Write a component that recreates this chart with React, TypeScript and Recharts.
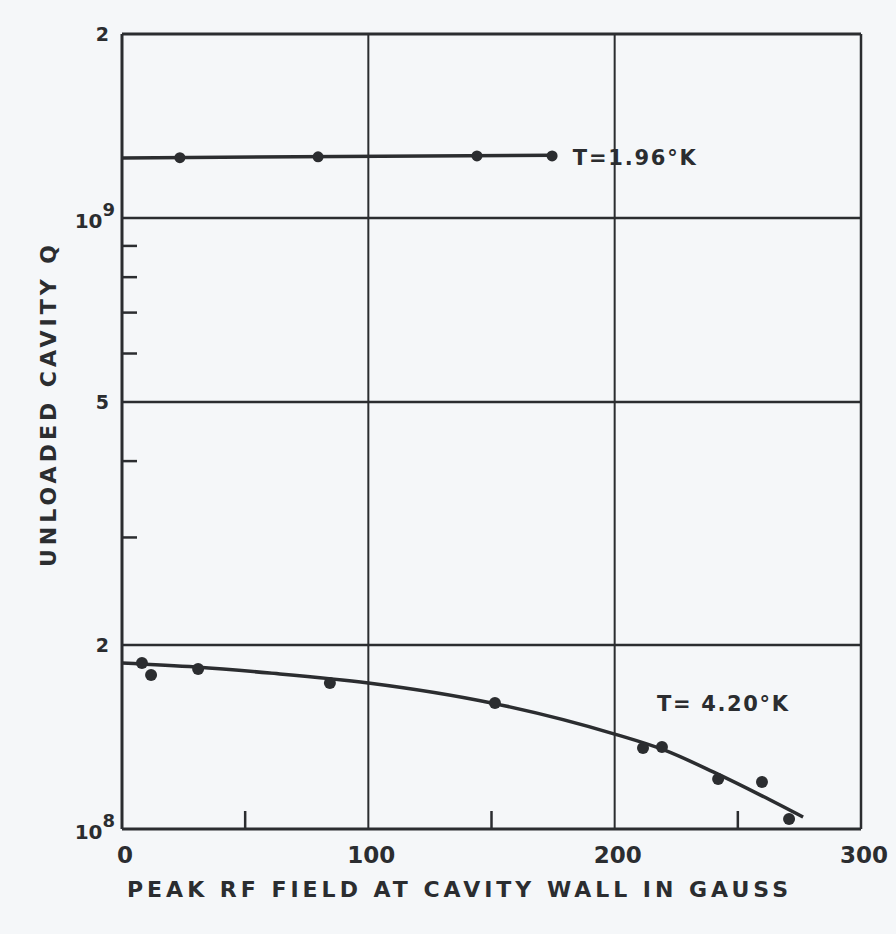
import {
  ComposedChart,
  Line,
  Scatter,
  XAxis,
  YAxis,
  ReferenceLine,
  ReferenceDot,
} from 'recharts';

const INK = '#2b2d30';
const PAPER = '#f5f7f9';
const FONT = '"DejaVu Sans", sans-serif';

// T = 1.96 K measurements and fitted line
const coldField = [23.5, 79.6, 144.1, 174.6];
const coldQ = [1.255e9, 1.259e9, 1.263e9, 1.263e9];
const coldFitField = [0, 174.6];
const coldFitQ = [1.254e9, 1.266e9];

// T = 4.20 K measurements and fitted curve
const warmField = [8.1, 11.8, 30.9, 84.4, 151.4, 211.5, 219.2, 242.0, 259.8, 270.8];
const warmQ = [1.869e8, 1.787e8, 1.827e8, 1.734e8, 1.608e8, 1.357e8, 1.362e8, 1.207e8, 1.194e8, 1.038e8];
const warmFitField = [0, 30, 60, 100, 150, 200, 220, 240, 260, 276.5];
const warmFitQ = [1.869e8, 1.841e8, 1.8e8, 1.734e8, 1.608e8, 1.43e8, 1.347e8, 1.24e8, 1.132e8, 1.046e8];

// axis ticks
const fieldMajorTicks = [0, 100, 200, 300];
const fieldMinorTicks = [50, 150, 250];
const qMajorTicks = [1e8, 2e8, 5e8, 1e9, 2e9];
const qMajorLabels = [['10', '8'], ['2', ''], ['5', ''], ['10', '9'], ['2', '']];
const qMinorTicks = [3e8, 4e8, 6e8, 7e8, 8e8, 9e8];
const qGridLines = [2e8, 5e8, 1e9];
const fieldGridLines = [100, 200];

const zip = (xs: number[], ys: number[]) => xs.map((x, i) => ({ x, q: ys[i] }));

const coldPoints = zip(coldField, coldQ);
const coldFit = zip(coldFitField, coldFitQ);
const warmPoints = zip(warmField, warmQ);
const warmFit = zip(warmFitField, warmFitQ);

function QTick(props: any) {
  const { x, y, payload } = props;
  const i = qMajorTicks.indexOf(payload.value);
  if (i < 0) {
    return <line x1={x} x2={x + 15} y1={y} y2={y} stroke={INK} strokeWidth={2.5} />;
  }
  const [base, exp] = qMajorLabels[i];
  if (!exp) {
    return (
      <text x={x - 13} y={y + 7} textAnchor="end" fontSize={19} fontWeight="bold" fontFamily={FONT} fill={INK}>
        {base}
      </text>
    );
  }
  return (
    <text x={x - 7} y={y + 10} textAnchor="end" fontSize={20} fontWeight="bold" fontFamily={FONT} fill={INK}>
      {base}
      <tspan dy={-12} fontSize={18}>{exp}</tspan>
    </text>
  );
}

function FieldTick(props: any) {
  const { x, y, payload } = props;
  if (fieldMinorTicks.includes(payload.value)) {
    return <line x1={x} x2={x} y1={y} y2={y - 18} stroke={INK} strokeWidth={2.5} />;
  }
  return (
    <text x={x + 3} y={y + 34} textAnchor="middle" fontSize={23} fontWeight="bold" fontFamily={FONT} fill={INK}>
      {payload.value}
    </text>
  );
}

function XTitle(props: any) {
  const { x, y } = props.viewBox;
  return (
    <text
      x={x + 5}
      y={y + 68}
      textLength={661}
      lengthAdjust="spacing"
      fontSize={22}
      fontWeight="bold"
      fontFamily={FONT}
      fill={INK}
    >
      PEAK RF FIELD AT CAVITY WALL IN GAUSS
    </text>
  );
}

function YTitle(props: any) {
  const { x, y } = props.viewBox;
  return (
    <text
      transform={`translate(${x + 6},${y + 372}) rotate(-90)`}
      textAnchor="middle"
      dominantBaseline="central"
      textLength={322}
      lengthAdjust="spacing"
      fontSize={22}
      fontWeight="bold"
      fontFamily={FONT}
      fill={INK}
    >
      UNLOADED CAVITY Q
    </text>
  );
}

function note(text: string, width: number) {
  return (props: any) => {
    const { x, y } = props.viewBox;
    return (
      <text
        x={x}
        y={y + 8}
        textLength={width}
        lengthAdjust="spacing"
        fontSize={21}
        fontWeight="bold"
        fontFamily={FONT}
        fill={INK}
      >
        {text}
      </text>
    );
  };
}

const dot = (r: number) => (p: any) => <circle cx={p.cx} cy={p.cy} r={r} fill={INK} />;

export default function App() {
  return (
    <div style={{ position: 'absolute', left: 0, top: 0, width: 896, height: 934, background: PAPER }}>
      <ComposedChart width={896} height={934} margin={{ top: 34, right: 35, bottom: 65, left: 42 }}>
        <XAxis
          dataKey="x"
          type="number"
          domain={[0, 300]}
          ticks={[...fieldMajorTicks, ...fieldMinorTicks].sort((a, b) => a - b)}
          interval={0}
          allowDataOverflow
          axisLine={false}
          tickLine={false}
          tickSize={0}
          tickMargin={0}
          height={40}
          tick={<FieldTick />}
          label={{ content: XTitle }}
        />
        <YAxis
          type="number"
          scale="log"
          domain={[1e8, 2e9]}
          ticks={[...qMajorTicks, ...qMinorTicks].sort((a, b) => a - b)}
          interval={0}
          allowDataOverflow
          axisLine={false}
          tickLine={false}
          tickSize={0}
          tickMargin={0}
          width={80}
          tick={<QTick />}
          label={{ content: YTitle }}
        />

        {qGridLines.map((v) => (
          <ReferenceLine key={`qg${v}`} y={v} stroke={INK} strokeWidth={2.5} />
        ))}
        {fieldGridLines.map((v) => (
          <ReferenceLine key={`fg${v}`} x={v} stroke={INK} strokeWidth={2} />
        ))}
        <ReferenceLine y={2e9} stroke={INK} strokeWidth={3} />
        <ReferenceLine y={1e8} stroke={INK} strokeWidth={3} />
        <ReferenceLine x={0} stroke={INK} strokeWidth={3} />
        <ReferenceLine x={300} stroke={INK} strokeWidth={2.5} />

        <Line
          data={coldFit}
          dataKey="q"
          type="linear"
          stroke={INK}
          strokeWidth={3.5}
          dot={false}
          activeDot={false}
          isAnimationActive={false}
        />
        <Line
          data={warmFit}
          dataKey="q"
          type="monotone"
          stroke={INK}
          strokeWidth={3.5}
          dot={false}
          activeDot={false}
          isAnimationActive={false}
        />
        <Scatter data={coldPoints} dataKey="q" shape={dot(5.5)} isAnimationActive={false} />
        <Scatter data={warmPoints} dataKey="q" shape={dot(6)} isAnimationActive={false} />

        <ReferenceDot x={183} y={1.26e9} r={0} fill="none" stroke="none" label={{ content: note('T=1.96°K', 123) }} />
        <ReferenceDot x={217.2} y={1.608e8} r={0} fill="none" stroke="none" label={{ content: note('T= 4.20°K', 131) }} />
      </ComposedChart>
    </div>
  );
}
